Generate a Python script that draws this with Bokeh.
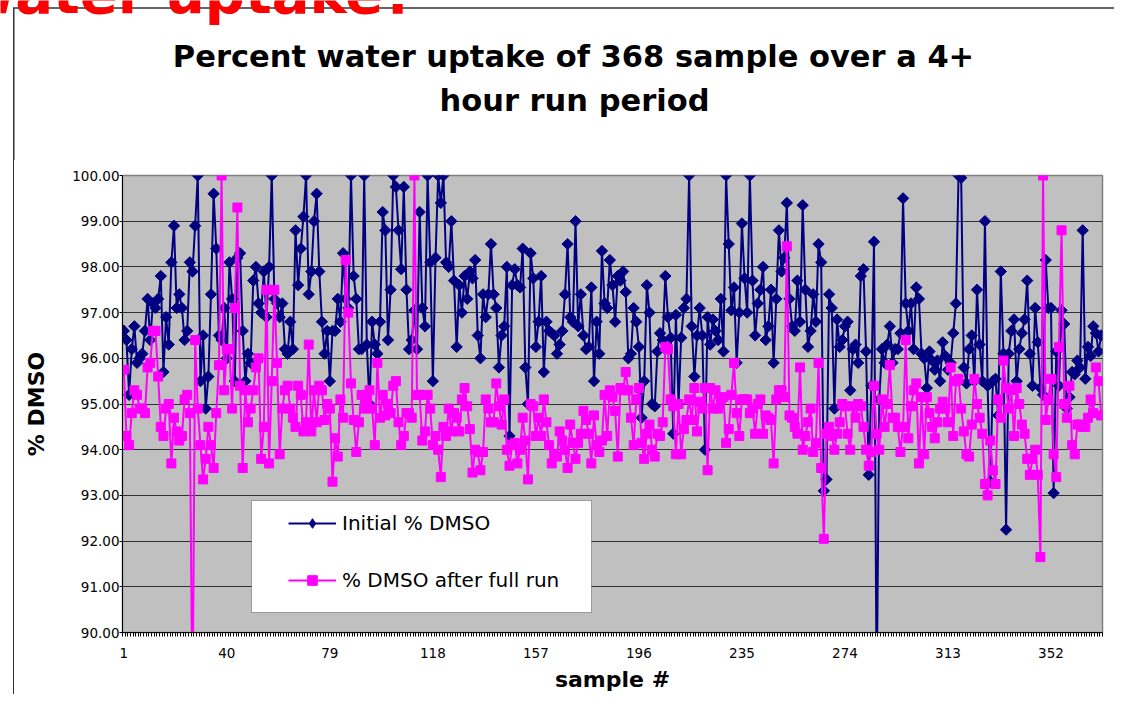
import numpy as np
from bokeh.plotting import figure
from bokeh.layouts import row, column
from bokeh.models import (Range1d, FixedTicker, PrintfTickFormatter, Label, Legend,
                          LegendItem, BoxAnnotation, Div)
from bokeh.embed import file_html
from bokeh.resources import INLINE

# ---------------- data ----------------
initial_1 = [96.6, 96.4, 95.2, 96.2, 96.7, 95.9, 96.0, 96.1, 96.6, 97.3, 96.4, 97.2, 97.1, 97.3, 97.8,
             95.7, 96.9, 96.3, 98.1, 98.9, 97.1, 97.4, 97.1, 96.4, 96.6, 98.1, 97.9, 98.9, 100.0, 95.5,
             96.5, 94.9, 95.6, 97.4, 99.6, 98.4, 96.5, 96.4, 97.1, 96.0, 98.1, 97.3, 95.5, 98.2, 98.3,
             96.6, 95.5, 96.1, 95.9, 97.7, 98.0, 97.2, 97.0, 97.9, 96.9, 98.0, 100.0, 97.3, 97.2, 96.9,
             97.2, 96.2, 96.1, 96.8, 96.2, 98.8, 97.6, 98.4, 99.1, 100.0, 97.4, 97.9, 99.0, 99.6]
initial_2 = [97.9, 96.8, 96.1, 96.6, 95.5, 96.6, 96.6, 97.3, 96.8, 98.3, 97.3, 97.1, 100.0, 97.8, 97.3,
             96.2, 96.2, 100.0, 96.3, 95.0, 96.8, 96.3, 96.1, 96.8, 99.2, 98.8, 96.4, 97.5, 100.0, 99.75,
             98.8, 97.95, 99.75, 97.5, 96.2, 96.4, 97.05, 96.2, 99.2, 97.1, 96.7, 100.0, 98.1, 95.5, 98.2,
             100.0, 99.4, 100.0, 98.1, 98.0, 99.0, 97.7, 96.25, 97.6, 97.0, 97.8, 97.3, 97.9, 97.75, 98.15,
             96.5, 96.0, 97.4, 96.9, 97.4, 98.5, 97.4, 97.1, 95.8, 96.5, 96.7, 98.0, 94.3, 97.6]
initial_3 = [97.95, 97.6, 97.55, 98.4, 95.8, 95.0, 98.3, 97.75, 96.25, 96.8, 97.8, 95.7, 96.8, 96.6, 96.55,
             96.5, 96.1, 96.3, 96.6, 97.4, 98.5, 96.9, 96.8, 99.0, 96.7, 97.4, 96.5, 96.2, 96.25, 97.55,
             95.5, 96.8, 96.1, 98.35, 97.2, 97.1, 98.15, 97.6, 96.8, 97.8, 97.7, 97.9, 97.45, 96.0, 96.1,
             97.1, 96.8, 96.25, 94.7, 95.5, 97.6, 97.0, 95.0, 94.95, 96.15, 96.55, 96.4, 97.8, 96.9, 96.45,
             94.35, 96.95, 95.0, 96.45, 97.1, 97.3, 100.0, 96.7, 95.6, 96.5, 97.1, 96.5, 94.0, 96.9]
initial_4 = [96.3, 96.85, 96.6, 96.4, 97.3, 96.15, 100.0, 98.5, 97.05, 97.55, 95.9, 97.0, 98.95, 97.75, 97.0,
             100.0, 97.7, 96.5, 97.2, 97.5, 98.0, 96.4, 96.7, 97.5, 95.9, 97.3, 98.8, 97.9, 98.2, 99.4,
             97.3, 96.7, 96.6, 97.7, 96.8, 99.35, 97.5, 96.25, 96.6, 97.4, 96.8, 98.5, 98.1, 93.1, 93.35,
             97.4, 97.1, 94.9, 96.85, 96.25, 96.4, 96.7, 96.8, 95.3, 96.2, 96.3, 95.9, 97.8, 97.95, 96.15,
             93.45, 95.4, 98.55, 88.5, 95.1, 96.2, 95.9, 96.3, 96.7, 95.9, 96.2, 96.2, 96.55, 99.5, 97.2]
initial_5 = [96.6, 97.2, 96.2, 97.55, 97.3, 96.1, 96.0, 95.35, 96.15, 95.95, 95.75, 95.95, 95.5, 96.35, 96.05,
             95.75, 95.9, 96.55, 97.2, 100.0, 99.95, 95.8, 95.45, 96.2, 96.5, 95.5, 97.5, 96.3, 95.5, 99.0,
             95.4, 93.3, 95.5, 95.55, 94.75, 97.9, 96.1, 92.25, 96.1, 96.6, 96.85, 95.5, 96.2, 96.55, 96.85,
             97.7, 96.1, 95.4, 97.1, 96.35, 95.35, 95.2, 98.15, 97.1, 97.1, 93.05, 96.15, 95.4, 97.05, 96.75,
             94.9, 95.15, 95.7, 95.65, 95.95, 95.8, 98.8, 95.55, 96.25, 96.05, 96.7, 96.55, 96.15, 96.5]

after_1 = [95.75, 94.3, 94.1, 94.8, 95.3, 95.2, 94.9, 94.9, 94.8, 95.8, 95.9, 96.6, 96.6, 95.6, 94.5,
           94.3, 94.9, 95.0, 93.7, 94.7, 94.4, 94.2, 94.3, 95.1, 95.2, 94.8, 88.0, 96.4, 94.9, 94.1,
           93.35, 93.8, 94.5, 94.1, 93.6, 94.8, 95.85, 100.0, 95.3, 96.2, 96.2, 94.9, 97.1, 99.3, 95.4,
           93.6, 95.3, 94.6, 94.9, 95.3, 95.8, 96.0, 93.8, 94.5, 97.5, 93.7, 95.5, 97.5, 95.9, 93.9,
           94.9, 95.3, 95.4, 94.9, 94.7, 94.5, 95.4, 95.2, 94.4, 94.6, 96.3, 94.4, 95.3, 94.6]
after_2 = [95.4, 95.3, 94.65, 95.0, 94.9, 93.3, 94.25, 93.85, 95.1, 94.7, 98.15, 97.0, 95.45, 94.65, 93.95,
           94.6, 95.2, 94.9, 95.1, 95.3, 94.9, 94.1, 95.9, 94.7, 95.2, 94.75, 95.0, 94.8, 95.4, 95.5,
           94.6, 94.1, 94.3, 94.8, 94.8, 94.7, 100.0, 95.2, 95.2, 94.2, 94.4, 95.2, 94.9, 94.1, 94.3,
           94.0, 93.4, 94.5, 94.3, 94.9, 94.4, 94.8, 94.7, 94.4, 95.1, 95.35, 94.95, 94.45, 93.5, 94.0,
           93.95, 93.55, 93.95, 95.1, 94.9, 94.6, 94.6, 95.45, 94.95, 94.55, 95.1, 94.0, 93.65, 94.1]
after_3 = [94.15, 93.7, 94.0, 94.7, 94.2, 93.35, 95.0, 94.95, 94.3, 94.7, 94.3, 95.1, 94.6, 94.1, 93.7,
           93.9, 93.85, 94.4, 94.2, 94.0, 93.6, 94.55, 94.15, 93.8, 94.15, 94.35, 94.85, 94.65, 94.35, 93.7,
           94.75, 94.1, 93.95, 94.2, 95.2, 94.3, 95.3, 95.15, 94.85, 93.85, 95.35, 95.3, 95.7, 95.3, 94.7,
           94.1, 95.1, 95.35, 94.15, 93.8, 94.35, 94.55, 94.0, 93.85, 94.35, 94.3, 94.6, 96.25, 96.2, 95.1,
           94.95, 93.9, 95.0, 93.9, 94.45, 94.65, 95.1, 94.65, 95.35, 94.4, 95.05, 94.9, 95.35, 93.55]
after_4 = [95.35, 94.9, 95.3, 94.9, 95.1, 95.15, 94.15, 94.45, 95.2, 95.9, 94.8, 94.3, 95.1, 95.1, 95.1,
           94.8, 94.9, 94.35, 95.0, 95.1, 94.35, 94.75, 94.7, 94.65, 93.7, 95.1, 95.3, 95.3, 95.15, 98.45,
           94.75, 94.7, 94.5, 94.35, 95.8, 94.0, 94.3, 94.6, 94.9, 93.95, 94.15, 95.9, 93.6, 92.05, 94.35,
           94.5, 94.3, 94.0, 94.35, 94.6, 95.0, 94.95, 94.35, 94.0, 94.95, 94.7, 95.0, 94.95, 94.5, 94.0,
           93.65, 93.95, 95.4, 94.35, 94.0, 95.1, 94.5, 95.0, 95.85, 94.7, 94.7, 94.5, 93.95, 94.5, 96.4]
after_5 = [94.25, 94.95, 95.3, 95.45, 93.7, 95.15, 93.9, 95.15, 94.8, 94.5, 94.25, 94.6, 94.9, 95.05, 94.9,
           94.6, 95.8, 94.3, 95.5, 95.55, 94.9, 94.4, 93.9, 93.85, 94.55, 95.55, 95.0, 94.7, 94.35, 93.25,
           93.0, 94.2, 93.55, 93.25, 95.1, 94.7, 95.95, 95.35, 94.9, 95.3, 94.3, 95.35, 95.0, 94.55, 94.35,
           93.8, 93.45, 93.8, 94.0, 93.45, 91.65, 100.0, 94.65, 95.1, 95.55, 93.9, 93.4, 96.25, 98.8, 95.0,
           94.7, 95.4, 94.1, 93.9, 94.55, 94.55, 94.5, 94.5, 94.7, 95.1, 94.8, 95.8, 95.5, 94.75]

initial_dmso = initial_1 + initial_2 + initial_3 + initial_4 + initial_5
after_dmso = after_1 + after_2 + after_3 + after_4 + after_5
samples = list(range(1, len(initial_dmso) + 1))

x_tick_values = [1, 40, 79, 118, 157, 196, 235, 274, 313, 352]
y_tick_values = [90, 91, 92, 93, 94, 95, 96, 97, 98, 99, 100]

title_line1 = "Percent water uptake of 368 sample over a 4+"
title_line2 = "hour run period"
slide_heading = "Water uptake?"
series_names = ["Initial % DMSO", "% DMSO after full run"]
x_label = "sample #"
y_label = "% DMSO"

FONT = "DejaVu Sans"
FRAME_COLOR = "#333333"
N = len(samples)
HEAD_H = 160
TOTAL_W, TOTAL_H = 1114, 694

# ---------------- header (slide heading, chart title, slide frame) ----------------
header = figure(width=TOTAL_W, height=HEAD_H, output_backend="svg", toolbar_location=None,
                x_range=Range1d(0, TOTAL_W), y_range=Range1d(0, HEAD_H), min_border=0,
                x_axis_type=None, y_axis_type=None, outline_line_color=None,
                background_fill_color="white", border_fill_color="white")
header.add_layout(Label(x=-45, y=HEAD_H + 7.4, text=slide_heading, text_font=FONT,
                        text_font_style="bold", text_font_size="56px", text_color="#FF0000",
                        text_baseline="alphabetic", text_align="left"))
header.add_layout(Label(x=573, y=HEAD_H - 55.8, text=title_line1, text_font=FONT,
                        text_font_style="bold", text_font_size="30.5px", text_color="black",
                        text_baseline="alphabetic", text_align="center"))
header.add_layout(Label(x=574, y=HEAD_H - 99.8, text=title_line2, text_font=FONT,
                        text_font_style="bold", text_font_size="30.5px", text_color="black",
                        text_baseline="alphabetic", text_align="center"))
header.segment(x0=[13.25, 12.5], y0=[0, HEAD_H - 7.5], x1=[13.25, TOTAL_W],
               y1=[HEAD_H - 7.5, HEAD_H - 7.5], line_color=FRAME_COLOR, line_width=1.5)

# ---------------- left strip: continuation of the slide frame line ----------------
strip = Div(text="", width=14, height=TOTAL_H - HEAD_H, margin=0,
            styles={"box-sizing": "border-box", "border-right": "1.5px solid " + FRAME_COLOR,
                    "padding": "0px", "background-color": "white"})

# ---------------- chart ----------------
p = figure(width=TOTAL_W - 14, height=TOTAL_H - HEAD_H, output_backend="svg", toolbar_location=None,
           x_range=Range1d(0.5, N + 0.5), y_range=Range1d(90, 100),
           min_border_left=108, min_border_right=12, min_border_top=175 - HEAD_H,
           min_border_bottom=62,
           background_fill_color="#C0C0C0", border_fill_color="white",
           outline_line_color="#808080", outline_line_width=1.5)

p.xgrid.visible = False
p.ygrid.grid_line_color = "#303030"
p.ygrid.grid_line_width = 1

p.yaxis.ticker = FixedTicker(ticks=y_tick_values)
p.yaxis.formatter = PrintfTickFormatter(format="%.2f")
p.yaxis.major_tick_out = 3
p.yaxis.major_tick_in = 0
p.yaxis.minor_tick_out = 0
p.yaxis.minor_tick_in = 0
p.yaxis.major_label_standoff = 0
p.yaxis.axis_label = y_label
p.yaxis.axis_label_standoff = 20

p.xaxis.ticker = FixedTicker(ticks=x_tick_values, minor_ticks=[i + 0.5 for i in range(0, N + 1)])
p.xaxis.major_tick_out = 0
p.xaxis.major_tick_in = 0
p.xaxis.minor_tick_out = 4
p.xaxis.minor_tick_in = 0
p.xaxis.major_label_standoff = 11
p.xaxis.axis_label = x_label
p.xaxis.axis_label_standoff = 6

for ax in (p.xaxis, p.yaxis):
    ax.axis_line_color = "black"
    ax.axis_line_width = 1
    ax.major_tick_line_color = "black"
    ax.minor_tick_line_color = "black"
    ax.major_label_text_font = FONT
    ax.major_label_text_font_size = "13.5px"
    ax.major_label_text_color = "black"
    ax.axis_label_text_font = FONT
    ax.axis_label_text_font_style = "bold"
    ax.axis_label_text_font_size = "22px"
    ax.axis_label_text_color = "black"

blue_line = p.line(samples, initial_dmso, line_color="#000080", line_width=2)
# legend key (diamond); hidden under the first rotated-square marker
blue_key = p.scatter(samples[:1], initial_dmso[:1], marker="diamond", size=11,
                     fill_color="#000080", line_color="#000080")
blue_pts = p.scatter(samples, initial_dmso, marker="square", size=8, angle=np.pi / 4,
                     fill_color="#000080", line_color="#000080")
pink_line = p.line(samples, after_dmso, line_color="#FF00FF", line_width=2)
pink_pts = p.scatter(samples, after_dmso, marker="square", size=9,
                     fill_color="#FF00FF", line_color="#FF00FF")

p.add_layout(BoxAnnotation(left=129, right=469, bottom=20, top=132,
                           left_units="screen", right_units="screen",
                           top_units="screen", bottom_units="screen",
                           fill_color="white", fill_alpha=1.0,
                           line_color="black", line_width=1))
legend = Legend(items=[LegendItem(label=series_names[0], renderers=[blue_line, blue_key]),
                       LegendItem(label=series_names[1], renderers=[pink_line, pink_pts])],
                location=(166, 40), padding=0, margin=0, spacing=33,
                glyph_width=48, glyph_height=24, label_height=24, label_standoff=6,
                label_text_font=FONT, label_text_font_size="20px", label_text_color="black",
                border_line_alpha=0, background_fill_alpha=0)
p.add_layout(legend)

layout = column(header, row(strip, p, spacing=0), spacing=0)
open("out.html", "w").write(file_html(layout, INLINE))
